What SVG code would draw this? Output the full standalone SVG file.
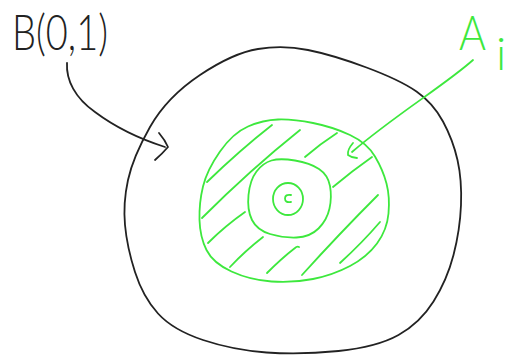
<svg xmlns="http://www.w3.org/2000/svg" width="505" height="358" viewBox="0 0 505 358">
<style>
.k{fill:none;stroke:#222;stroke-width:1.8;stroke-linecap:round;stroke-linejoin:round}
.g{fill:none;stroke:#3de83d;stroke-width:1.8;stroke-linecap:round;stroke-linejoin:round}
.t{font-family:Lato,Roboto,"Open Sans","Liberation Sans",sans-serif;font-weight:300}
</style>
<rect width="505" height="358" fill="#fff"/>
<g id="ball-B">
<path class="k" d="M200,75 Q233,53 258,49 Q283,45 308,50 Q333,55 366.5,67.5 Q400,80 416.5,91.5 Q433,103 443,121.5 Q453,140 457.5,160 Q462,180 461,205 Q460,230 453.5,255 Q447,280 433.5,301.5 Q420,323 398.5,335 Q377,347 338.5,351 Q300,355 266.5,352.5 Q233,350 203,340 Q173,330 158,313.5 Q143,297 135,272 Q127,247 125,225 Q123,203 128,180 Q133,157 150,127 Q167,97 200,75 Z"/>
</g>
<g id="set-A">
<path class="g" d="M278,119.5 Q293,119 313,123 Q333,127 350,135 Q367,143 375,156.5 Q383,170 386.5,183.5 Q390,197 388.5,213.5 Q387,230 377,243.5 Q367,257 350,266 Q333,275 313,279 Q293,283 271.5,281.5 Q250,280 231.5,271.5 Q213,263 206.5,250 Q200,237 199.5,220 Q199,203 203,186.5 Q207,170 220,151.5 Q233,133 248,126.5 Q263,120 278,119.5 Z"/>
<path class="g" d="M295,160.5 Q310,163 319,169 Q328,175 330,186 Q332,197 329.5,208.5 Q327,220 318.5,228.5 Q310,237 296.5,237.5 Q283,238 270,234 Q257,230 252,220 Q247,210 248.5,195 Q250,180 256.5,171.5 Q263,163 271.5,160.5 Q280,158 295,160.5 Z"/>
<path class="g" d="M207,182 Q240,150 272,125"/>
<path class="g" d="M202,218 Q250,170 300,130"/>
<path class="g" d="M305,157 Q320,144 337,133"/>
<path class="g" d="M208,243 Q225,226 245,212"/>
<path class="g" d="M333,187 Q352,171 372,157"/>
<path class="g" d="M230,267 Q245,251 263,237"/>
<path class="g" d="M267,273 Q282,258 295,248 Q297,246 299,247"/>
<path class="g" d="M302,275 Q340,233 378,195"/>
<path class="g" d="M340,263 Q362,243 380,222"/>
<ellipse class="g" cx="288" cy="199" rx="15" ry="16"/>
<path class="g" d="M291,195 Q285,194 285,198.5 Q285,203 291,202"/>
</g>
<g id="connectors">
<path class="k" d="M67,63 C66,80 75,98 95,112 C115,127 140,139 165,147"/>
<path class="k" d="M159,133 Q165,140 168,147 Q162,154 155,160"/>
<path class="g" d="M473,60 C445,85 395,115 352,152"/>
<path class="g" d="M353,143 Q347,150 348,155 Q352,158 357,158"/>
</g>
<g id="labels">
<text class="t" x="12" y="50" font-size="50" textLength="96" lengthAdjust="spacingAndGlyphs" fill="#222">B(0,1)</text>
<text class="t" x="459" y="50" font-size="48" textLength="27" lengthAdjust="spacingAndGlyphs" fill="#3de83d">A</text>
<text class="t" x="496" y="70" font-size="46" fill="#3de83d">i</text>
</g>
</svg>
